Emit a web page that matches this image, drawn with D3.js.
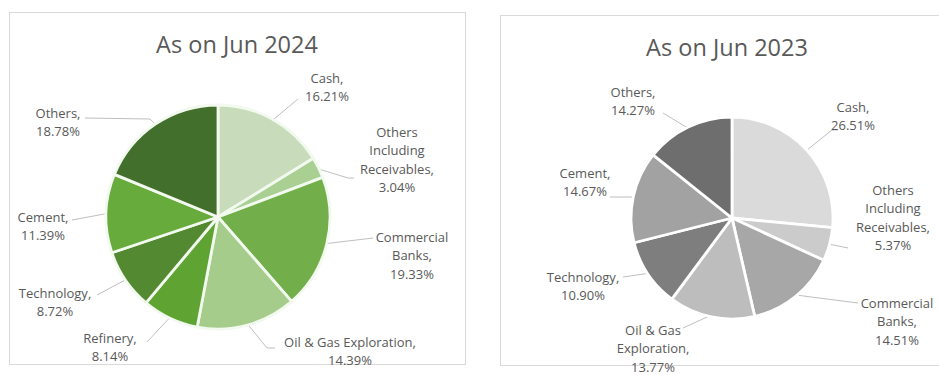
<!DOCTYPE html>
<html>
<head>
<meta charset="utf-8">
<script src="https://cdn.jsdelivr.net/npm/d3@7"></script>
<style>
  html, body { margin: 0; padding: 0; background: #ffffff; }
  svg { display: block; }
  text { font-family: "Open Sans", "Liberation Sans", sans-serif; fill: #595959; }
</style>
</head>
<body>
<svg id="chart" width="939" height="375"></svg>
<script>
// Portfolio composition, June 2024
const cats2024 = ["Cash", "Others Including Receivables", "Commercial Banks", "Oil & Gas Exploration",
                  "Refinery", "Technology", "Cement", "Others"];
const vals2024 = [16.21, 3.04, 19.33, 14.39, 8.14, 8.72, 11.39, 18.78];
const labels2024 = [
  ["Cash,", "16.21%"],
  ["Others", "Including", "Receivables,", "3.04%"],
  ["Commercial", "Banks,", "19.33%"],
  ["Oil & Gas Exploration,", "14.39%"],
  ["Refinery,", "8.14%"],
  ["Technology,", "8.72%"],
  ["Cement,", "11.39%"],
  ["Others,", "18.78%"]
];

// Portfolio composition, June 2023
const cats2023 = ["Cash", "Others Including Receivables", "Commercial Banks", "Oil & Gas Exploration",
                  "Technology", "Cement", "Others"];
const vals2023 = [26.51, 5.37, 14.51, 13.77, 10.90, 14.67, 14.27];
const labels2023 = [
  ["Cash,", "26.51%"],
  ["Others", "Including", "Receivables,", "5.37%"],
  ["Commercial", "Banks,", "14.51%"],
  ["Oil & Gas", "Exploration,", "13.77%"],
  ["Technology,", "10.90%"],
  ["Cement,", "14.67%"],
  ["Others,", "14.27%"]
];

// Slice fills
const colors2024 = ["#c8dcbb", "#a9cf93", "#72ae4a", "#a5cc8a", "#5fa433", "#538a31", "#68ab3d", "#436f2c"];
const colors2023 = ["#dadada", "#cbcbcb", "#a7a7a7", "#bdbdbd", "#7e7e7e", "#a2a2a2", "#6e6e6e"];

// Layout of each panel: label block centre (first line) and leader points, relative to pie centre
const layout2024 = {
  frame: [9.5, 12.5, 456, 352],
  title: "As on Jun 2024", titleX: 237, titleY: 53,
  cx: 218, cy: 217, r: 112, sep: "#f2f9ee",
  labels: [
    { x: 109, y: -139, lead: [[80, -118]] },
    { x: 179, y: -85,  lead: [[130, -39], [136, -39]] },
    { x: 194, y: 20,   lead: [[155, 21]] },
    { x: 132, y: 125,  lead: [[49, 131], [57, 131]] },
    { x: -108, y: 121, lead: [[-71, 125]] },
    { x: -163, y: 76,  lead: [[-121, 78]] },
    { x: -175, y: 0,   lead: [[-146, 3]] },
    { x: -160, y: -104, lead: [[-68, -98], [-133, -99]] }
  ]
};
const layout2023 = {
  frame: [500.5, 15.5, 460, 350],
  title: "As on Jun 2023", titleX: 727, titleY: 56,
  cx: 732, cy: 218, r: 101, sep: "#ffffff",
  labels: [
    { x: 121, y: -111, lead: [[100, -88], [106, -88]] },
    { x: 161, y: -28,  lead: [[116, 30]] },
    { x: 165, y: 85,   lead: [[126, 85]] },
    { x: -79, y: 112,  lead: [[-49, 110]] },
    { x: -149, y: 59,  lead: [[-109, 59]] },
    { x: -147, y: -45, lead: [[-122, -21]] },
    { x: -99, y: -126, lead: [[-69, -105]] }
  ]
};

const svg = d3.select("#chart");

function drawPanel(cats, vals, labels, colors, L) {
  const g = svg.append("g");

  // panel frame
  g.append("rect")
    .attr("x", L.frame[0]).attr("y", L.frame[1])
    .attr("width", L.frame[2]).attr("height", L.frame[3])
    .attr("fill", "#ffffff").attr("stroke", "#d9d9d9").attr("stroke-width", 1);

  // title
  g.append("text")
    .attr("x", L.titleX).attr("y", L.titleY)
    .attr("text-anchor", "middle")
    .style("font-size", "23.5px")
    .text(L.title);

  const color = d3.scaleOrdinal().domain(cats).range(colors);
  const pie = d3.pie().sort(null).value(d => d.v);
  const arcs = pie(cats.map((c, i) => ({ c, v: vals[i] })));
  const arc = d3.arc().innerRadius(0).outerRadius(L.r);

  const pg = g.append("g").attr("transform", `translate(${L.cx},${L.cy})`);

  // leader lines: from the slice edge to the label
  const line = d3.line();
  arcs.forEach((a, i) => {
    const mid = (a.startAngle + a.endAngle) / 2;
    const edge = [Math.sin(mid) * (L.r - 2), -Math.cos(mid) * (L.r - 2)];
    pg.append("path")
      .attr("d", line([edge, ...L.labels[i].lead]))
      .attr("fill", "none")
      .attr("stroke", "#bfbfbf")
      .attr("stroke-width", 1);
  });

  // slices
  pg.selectAll("path.slice")
    .data(arcs)
    .join("path")
    .attr("class", "slice")
    .attr("d", arc)
    .attr("fill", d => color(d.data.c))
    .attr("stroke", L.sep)
    .attr("stroke-width", 2.8)
    .attr("stroke-linejoin", "round");

  // data labels
  arcs.forEach((a, i) => {
    const p = L.labels[i];
    const t = pg.append("text")
      .attr("text-anchor", "middle")
      .style("font-size", "13px");
    labels[i].forEach((s, k) => {
      t.append("tspan")
        .attr("x", p.x)
        .attr("y", p.y + k * 18.5)
        .attr("dy", "0.35em")
        .text(s);
    });
  });
}

drawPanel(cats2024, vals2024, labels2024, colors2024, layout2024);
drawPanel(cats2023, vals2023, labels2023, colors2023, layout2023);
</script>
</body>
</html>
